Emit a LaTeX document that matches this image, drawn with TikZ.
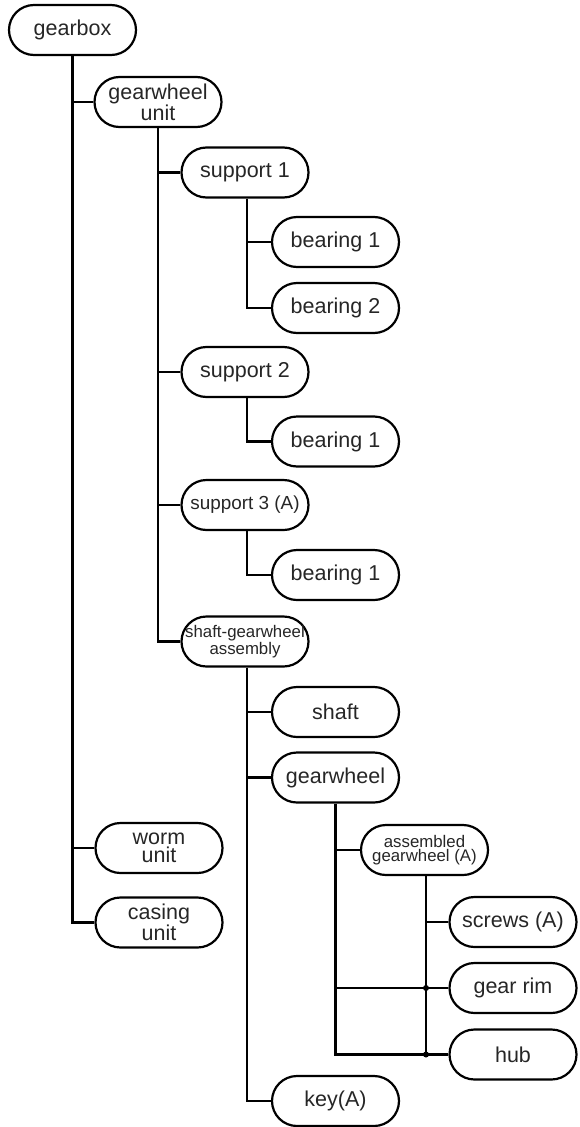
\documentclass[tikz,border=0pt]{standalone}
\usepackage{fontspec}
\setmainfont{Liberation Sans}
\begin{document}
\begin{tikzpicture}[x=1pt,y=-1pt,
  box/.style={draw=black, line width=2.2pt, rounded corners=25pt, minimum width=127pt, minimum height=50pt, inner sep=0pt, align=center, font=\fontsize{21.5}{18.5}\selectfont, text=black!85},
  smallbox/.style={box, font=\fontsize{16.8}{14.5}\selectfont},
  link/.style={line width=2.2pt, black},
  jdot/.style={fill=black, circle, inner sep=0pt, minimum size=6pt}
]
\useasboundingbox (0,0) rectangle (579,1127);
\node[box] (gearbox) at (72.5,30) {gearbox};
\node[box] (gu) at (158,102) {gearwheel\\unit};
\node[box] (s1) at (245,172.5) {support 1};
\node[box] (b11) at (335.5,242) {bearing 1};
\node[box] (b12) at (335.5,308) {bearing 2};
\node[box] (s2) at (245,372) {support 2};
\node[box] (b21) at (335.5,441.5) {bearing 1};
\node[box, font=\fontsize{18.9}{18}\selectfont] (s3) at (245,505) {support 3 (A)};
\node[box] (b31) at (335.5,575) {bearing 1};
\node[smallbox] (sga) at (245,641.5) {shaft-gearwheel\\assembly};
\node[box] (shaft) at (335.5,712) {shaft};
\node[box] (gw) at (335.5,777.5) {gearwheel};
\node[smallbox] (ag) at (424.5,850) {assembled\\gearwheel (A)};
\node[box] (screws) at (513,922) {screws (A)};
\node[box] (rim) at (513,988) {gear rim};
\node[box] (hub) at (513,1054.5) {hub};
\node[box] (key) at (335.5,1101) {key(A)};
\node[box] (worm) at (159,848) {worm\\unit};
\node[box] (casing) at (159,922.5) {casing\\unit};

% trunk anchors
\coordinate (t0) at (gearbox.south);
\coordinate (t1) at (gu.south);
\coordinate (t2) at ([xshift=2pt]s1.south);
\coordinate (t3) at ([xshift=2pt]s2.south);
\coordinate (t4) at ([xshift=2pt]s3.south);
\coordinate (t5) at ([xshift=2pt]sga.south);
\coordinate (t6) at (gw.south);
\coordinate (t7) at ([xshift=1.5pt]ag.south);

% gearbox
\draw[link] (t0) -- (t0 |- casing.west) -- (casing.west);
\draw[link] (t0 |- gu.west) -- (gu.west);
\draw[link] (t0 |- worm.west) -- (worm.west);
% gearwheel unit
\draw[link] (t1) -- (t1 |- sga.west) -- (sga.west);
\draw[link] (t1 |- s1.west) -- (s1.west);
\draw[link] (t1 |- s2.west) -- (s2.west);
\draw[link] (t1 |- s3.west) -- (s3.west);
% supports
\draw[link] (t2) -- (t2 |- b12.west) -- (b12.west);
\draw[link] (t2 |- b11.west) -- (b11.west);
\draw[link] (t3) -- (t3 |- b21.west) -- (b21.west);
\draw[link] (t4) -- (t4 |- b31.west) -- (b31.west);
% shaft-gearwheel assembly
\draw[link] (t5) -- (t5 |- key.west) -- (key.west);
\draw[link] (t5 |- shaft.west) -- (shaft.west);
\draw[link] (t5 |- gw.west) -- (gw.west);
% gearwheel
\draw[link] (t6) -- (t6 |- hub.west) -- (hub.west);
\draw[link] (t6 |- ag.west) -- (ag.west);
\draw[link] (t6 |- rim.west) -- (rim.west);
% assembled gearwheel
\draw[link] (t7) -- (t7 |- hub.west);
\draw[link] (t7 |- screws.west) -- (screws.west);
\node[jdot] (d1) at (t7 |- rim.west) {};
\node[jdot] (d2) at (t7 |- hub.west) {};
\end{tikzpicture}
\end{document}
